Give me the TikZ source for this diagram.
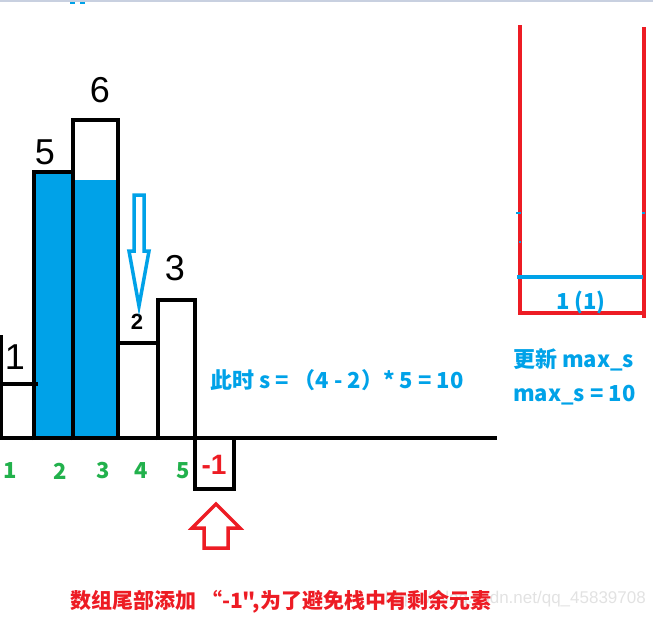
\documentclass[tikz,border=0pt]{standalone}
\usepackage{fontspec}
\setmainfont{Liberation Sans}
\newfontfamily\cjk{Noto Sans CJK SC}
\definecolor{pblue}{HTML}{00A2E8}
\definecolor{pred}{HTML}{ED1C24}
\definecolor{pgreen}{HTML}{22B14C}
\definecolor{topgray}{HTML}{C8D0E0}
\definecolor{wmgray}{HTML}{E2E2E2}
\tikzset{
  bar/.style={draw=black, line width=4pt},
  baseline/.style={draw=black, line width=4pt},
  hand/.style={font=\fontsize{36}{36}\selectfont, text=black, inner sep=0pt},
  idx/.style={font=\cjk\bfseries\fontsize{22}{22}\selectfont, text=pgreen, inner sep=0pt},
  bluetxt/.style={font=\cjk\bfseries\fontsize{22}{22}\selectfont, text=pblue, inner sep=0pt},
  redtxt/.style={font=\cjk\bfseries\fontsize{21}{21}\selectfont, text=pred, inner sep=0pt},
  hollow/.style={line width=3.5pt, fill=white, line join=miter},
  stackline/.style={draw=pred, line width=3.5pt},
}
\begin{document}
\begin{tikzpicture}[x=1pt,y=-1pt]
\useasboundingbox (0,0) rectangle (653,616);
% top strip
\fill[topgray] (0,0) rectangle (653,2);
\fill[pblue] (70,2) rectangle (75,3.5);
\fill[pblue] (80,2) rectangle (85,3.5);
% filled bars
\fill[pblue] (34,172) rectangle (73,438);
\fill[pblue] (73,180) rectangle (118,438);
% bar outlines
\draw[bar] (1,335) -- (1,440);
\draw[bar] (0,384) -- (38,384);
\draw[bar] (34,440) -- (34,172) -- (73,172);
\draw[bar] (73,440) -- (73,120) -- (118,120) -- (118,438);
\draw[bar] (116,343) -- (160,343);
\draw[bar] (158,440) -- (158,300) -- (195,300) -- (195,438);
% baseline
\draw[baseline] (0,438) -- (497,438);
% -1 box
\draw[bar] (195,438) -- (195,489) -- (234,489) -- (234,438);
% handwritten heights
\node[hand] (h1) at (15,357) {1};
\node[hand] (h5) at (45,152) {5};
\node[hand] (h6) at (100,90) {6};
\node[font=\bfseries\fontsize{22}{22}\selectfont, inner sep=0pt] (h2) at (137,322) {2};
\node[hand] (h3) at (175,268) {3};
\node[font=\bfseries\fontsize{28}{28}\selectfont, text=pred, inner sep=0pt] (m1) at (214,465) {-1};
% indices
\node[idx] (i1) at (10,471) {1};
\node[idx] (i2) at (60,471) {2};
\node[idx] (i3) at (103,471) {3};
\node[idx] (i4) at (141,471) {4};
\node[idx] (i5) at (183,471) {5};
% blue hollow arrow down
\draw[hollow, draw=pblue] (134,195) -- (144,195) -- (144,251) -- (149,251) -- (139,306) -- (129,251) -- (134,251) -- cycle;
% red hollow arrow up
\draw[hollow, draw=pred] (216,504) -- (240,528) -- (228,528) -- (228,548) -- (204,548) -- (204,528) -- (192,528) -- cycle;
% formula
\node[bluetxt, anchor=west] (f) at (210,380) {此时 s = （4 - 2）* 5 = 10};
% stack
\draw[stackline] (520,25) -- (520,315);
\draw[stackline] (644,27) -- (644,318);
\draw[stackline] (520,313) -- (644,313);
\draw[pblue, line width=3.5pt] (517,277) -- (643,277);
\draw[pblue, line width=2.5pt] (516,213) -- (521,213);
\draw[pblue, line width=2.5pt] (642,213) -- (645,213);
\draw[pblue, line width=2.5pt] (519,242) -- (521,242);
\node[bluetxt] (s1) at (581,302) {1 (1)};
\node[bluetxt, anchor=west] (u1) at (513,360) {更新 max\_s};
\node[bluetxt, anchor=west] (u2) at (513,395) {max\_s = 10};
% watermark
\node[font=\fontsize{17}{17}\selectfont, text=wmgray, anchor=east, inner sep=0pt] (wm) at (646,599) {https://blog.csdn.net/qq\_45839708};
% bottom caption
\node[redtxt, anchor=west] (cap) at (70,602) {数组尾部添加 “-1",为了避免栈中有剩余元素};
\end{tikzpicture}
\end{document}
